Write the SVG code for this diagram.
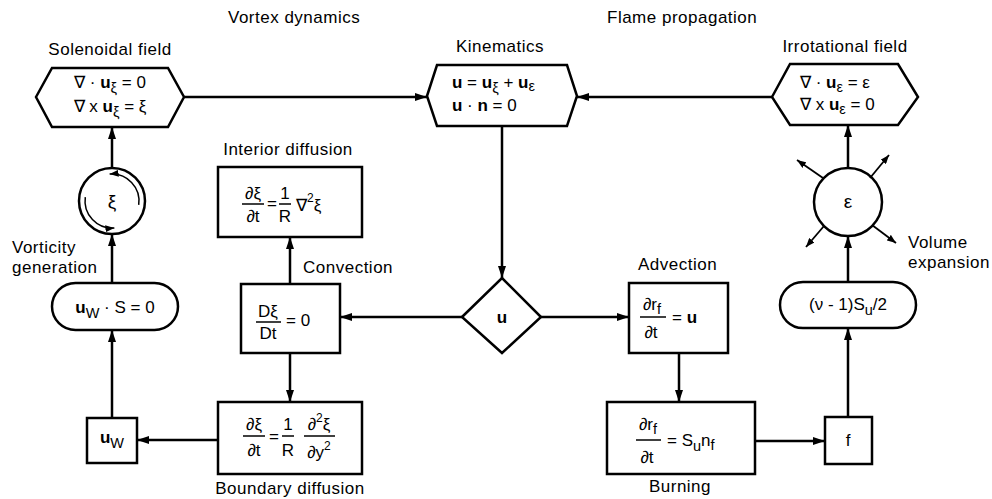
<svg xmlns="http://www.w3.org/2000/svg" width="992" height="499" viewBox="0 0 992 499">
<defs>
<marker id="ah" viewBox="0 0 12 8" refX="12" refY="4" markerWidth="12" markerHeight="8" orient="auto" markerUnits="userSpaceOnUse"><path d="M0,0 L12,4 L0,8 z" fill="#000"/></marker>
<marker id="sm" viewBox="0 0 9 7" refX="9" refY="3.5" markerWidth="9" markerHeight="7" orient="auto" markerUnits="userSpaceOnUse"><path d="M0,0 L9,3.5 L0,7 z" fill="#000"/></marker>
<style>
.shape{fill:#fff;stroke:#000;stroke-width:2.5;stroke-linejoin:miter}
.ln{fill:none;stroke:#000;stroke-width:2.5}
.bar{stroke:#000;stroke-width:1.5}
.lbl{font-family:"Liberation Sans",Arial,sans-serif;font-size:17px;fill:#000;letter-spacing:0.5px}
.eq{font-family:"Liberation Sans",Arial,sans-serif;font-size:17px;fill:#000}
.b{font-weight:bold}
.sub{font-size:14.5px}
</style>
</defs>
<rect width="992" height="499" fill="#fff"/>

<text class="lbl" x="228" y="23">Vortex dynamics</text>
<text class="lbl" x="607" y="23">Flame propagation</text>

<g id="connectors">
<path class="ln" d="M184,97 H427" marker-end="url(#ah)"/>
<path class="ln" d="M772,97 H577" marker-end="url(#ah)"/>
<path class="ln" d="M502,127 V278" marker-end="url(#ah)"/>
<path class="ln" d="M462,317 H340" marker-end="url(#ah)"/>
<path class="ln" d="M541,317 H629" marker-end="url(#ah)"/>
<path class="ln" d="M290,284 V237" marker-end="url(#ah)"/>
<path class="ln" d="M290,353 V402" marker-end="url(#ah)"/>
<path class="ln" d="M218,440 H137" marker-end="url(#ah)"/>
<path class="ln" d="M112,418 V330" marker-end="url(#ah)"/>
<path class="ln" d="M112,283 V234" marker-end="url(#ah)"/>
<path class="ln" d="M112,168 V127" marker-end="url(#ah)"/>
<path class="ln" d="M679,353 V402" marker-end="url(#ah)"/>
<path class="ln" d="M755,441 H825" marker-end="url(#ah)"/>
<path class="ln" d="M848,417 V328" marker-end="url(#ah)"/>
<path class="ln" d="M848,282 V236" marker-end="url(#ah)"/>
<path class="ln" d="M848,168 V125" marker-end="url(#ah)"/>
</g>

<g id="solenoidal">
<polygon class="shape" points="36,97 52,68 168,68 184,97 168,127 52,127"/>
<text class="lbl" x="110" y="55" text-anchor="middle">Solenoidal field</text>
<text class="eq" x="110" y="88" text-anchor="middle">∇ · <tspan class="b">u</tspan><tspan class="sub" dy="5">ξ</tspan><tspan dy="-5"> = 0</tspan></text>
<text class="eq" x="110" y="112" text-anchor="middle">∇ x <tspan class="b">u</tspan><tspan class="sub" dy="5">ξ</tspan><tspan dy="-5"> = ξ</tspan></text>
</g>

<g id="kinematics">
<polygon class="shape" points="427,96 437,65 567,65 577,96 567,126 437,126"/>
<text class="lbl" x="500" y="52" text-anchor="middle">Kinematics</text>
<text class="eq" x="452" y="88"><tspan class="b">u</tspan> = <tspan class="b">u</tspan><tspan class="sub" dy="5">ξ</tspan><tspan dy="-5"> + </tspan><tspan class="b">u</tspan><tspan class="sub" dy="3">ε</tspan></text>
<text class="eq" x="452" y="111"><tspan class="b">u</tspan> · <tspan class="b">n</tspan> = 0</text>
</g>

<g id="irrotational">
<polygon class="shape" points="772,97 790,64 898,64 918,97 898,125 790,125"/>
<text class="lbl" x="845" y="52" text-anchor="middle">Irrotational field</text>
<text class="eq" x="800" y="88">∇ · <tspan class="b">u</tspan><tspan class="sub" dy="4">ε</tspan><tspan dy="-4"> =  ε</tspan></text>
<text class="eq" x="800" y="110">∇ x <tspan class="b">u</tspan><tspan class="sub" dy="4">ε</tspan><tspan dy="-4"> = 0</tspan></text>
</g>

<g id="vorticity">
<circle class="shape" cx="112" cy="201" r="33"/>
<path d="M138.7,204.8 A27,27 0 0 0 109.6,174.1" fill="none" stroke="#000" stroke-width="1.5" marker-end="url(#sm)"/>
<path d="M85.3,197.2 A27,27 0 0 0 114.4,227.9" fill="none" stroke="#000" stroke-width="1.5" marker-end="url(#sm)"/>
<text class="eq" x="112" y="208" text-anchor="middle" style="font-size:19px">ξ</text>
<text class="lbl" x="12" y="253">Vorticity</text>
<text class="lbl" x="12" y="273">generation</text>
</g>

<g id="wall-condition">
<rect class="shape" x="52" y="283" width="126" height="47" rx="23.5"/>
<text class="eq" x="115" y="313" text-anchor="middle"><tspan class="b">u</tspan><tspan class="sub" dy="5">W</tspan><tspan dy="-5"> ·  S = 0</tspan></text>
</g>

<g id="uw">
<rect class="shape" x="87" y="418" width="50" height="45"/>
<text class="eq" x="112" y="443" text-anchor="middle"><tspan class="b">u</tspan><tspan class="sub" dy="5">W</tspan></text>
</g>

<g id="interior-diffusion">
<rect class="shape" x="218" y="167" width="144" height="70"/>
<text class="lbl" x="288" y="155" text-anchor="middle">Interior diffusion</text>
<text class="eq" x="253" y="199" text-anchor="middle">∂ξ</text>
<line class="bar" x1="242" y1="204" x2="264" y2="204"/>
<text class="eq" x="253" y="222" text-anchor="middle">∂t</text>
<text class="eq" x="272" y="209" text-anchor="middle">=</text>
<text class="eq" x="285" y="199" text-anchor="middle">1</text>
<line class="bar" x1="279" y1="204" x2="291" y2="204"/>
<text class="eq" x="285" y="222" text-anchor="middle">R</text>
<text class="eq" x="296" y="211">∇<tspan style="font-size:12px" dy="-9">2</tspan><tspan dy="9">ξ</tspan></text>
</g>

<g id="convection">
<rect class="shape" x="241" y="284" width="99" height="69"/>
<text class="lbl" x="303" y="273">Convection</text>
<text class="eq" x="268" y="317" text-anchor="middle">Dξ</text>
<line class="bar" x1="256" y1="322" x2="281" y2="322"/>
<text class="eq" x="268" y="339" text-anchor="middle">Dt</text>
<text class="eq" x="286" y="326">= 0</text>
</g>

<g id="boundary-diffusion">
<rect class="shape" x="218" y="402" width="144" height="72"/>
<text class="lbl" x="290" y="494" text-anchor="middle">Boundary diffusion</text>
<text class="eq" x="254" y="430" text-anchor="middle">∂ξ</text>
<line class="bar" x1="243" y1="436" x2="265" y2="436"/>
<text class="eq" x="254" y="456" text-anchor="middle">∂t</text>
<text class="eq" x="274" y="442" text-anchor="middle">=</text>
<text class="eq" x="288" y="430" text-anchor="middle">1</text>
<line class="bar" x1="282" y1="436" x2="294" y2="436"/>
<text class="eq" x="288" y="456" text-anchor="middle">R</text>
<text class="eq" x="319" y="430" text-anchor="middle">∂<tspan style="font-size:12px" dy="-8">2</tspan><tspan dy="8">ξ</tspan></text>
<line class="bar" x1="304" y1="436" x2="335" y2="436"/>
<text class="eq" x="319" y="458" text-anchor="middle">∂y<tspan style="font-size:12px" dy="-8">2</tspan></text>
</g>

<g id="velocity">
<polygon class="shape" points="462,317 502,278 541,317 502,353"/>
<text class="eq b" x="502" y="323" text-anchor="middle">u</text>
</g>

<g id="advection">
<rect class="shape" x="629" y="283" width="99" height="70"/>
<text class="lbl" x="638" y="270">Advection</text>
<text class="eq" x="652" y="310" text-anchor="middle">∂r<tspan class="sub" dy="4">f</tspan></text>
<line class="bar" x1="640" y1="317" x2="666" y2="317"/>
<text class="eq" x="651" y="338" text-anchor="middle">∂t</text>
<text class="eq" x="672" y="323">= <tspan class="b">u</tspan></text>
</g>

<g id="burning">
<rect class="shape" x="607" y="402" width="148" height="72"/>
<text class="lbl" x="680" y="492" text-anchor="middle">Burning</text>
<text class="eq" x="648" y="430" text-anchor="middle">∂r<tspan class="sub" dy="4">f</tspan></text>
<line class="bar" x1="636" y1="440" x2="661" y2="440"/>
<text class="eq" x="647" y="463" text-anchor="middle">∂t</text>
<text class="eq" x="667" y="446">= S<tspan class="sub" dy="5">u</tspan><tspan dy="-5">n</tspan><tspan class="sub" dy="4">f</tspan></text>
</g>

<g id="f">
<rect class="shape" x="825" y="417" width="47" height="47"/>
<text class="eq" x="848" y="446" text-anchor="middle">f</text>
</g>

<g id="source">
<rect class="shape" x="780" y="282" width="136" height="46" rx="23"/>
<text class="eq" x="848" y="310" text-anchor="middle">(ν - 1)S<tspan class="sub" dy="5">u</tspan><tspan dy="-5">/2</tspan></text>
</g>

<g id="expansion">
<circle class="shape" cx="848" cy="202" r="34"/>
<text class="eq" x="848" y="208" text-anchor="middle" style="font-size:19px">ε</text>
<path d="M823,178 L797,160" stroke="#000" stroke-width="1.8" marker-end="url(#sm)"/>
<path d="M870,178 L889,155" stroke="#000" stroke-width="1.8" marker-end="url(#sm)"/>
<path d="M824,226 L806,247" stroke="#000" stroke-width="1.8" marker-end="url(#sm)"/>
<path d="M872,225 L896,243" stroke="#000" stroke-width="1.8" marker-end="url(#sm)"/>
<text class="lbl" x="908" y="248">Volume</text>
<text class="lbl" x="908" y="268">expansion</text>
</g>
</svg>
